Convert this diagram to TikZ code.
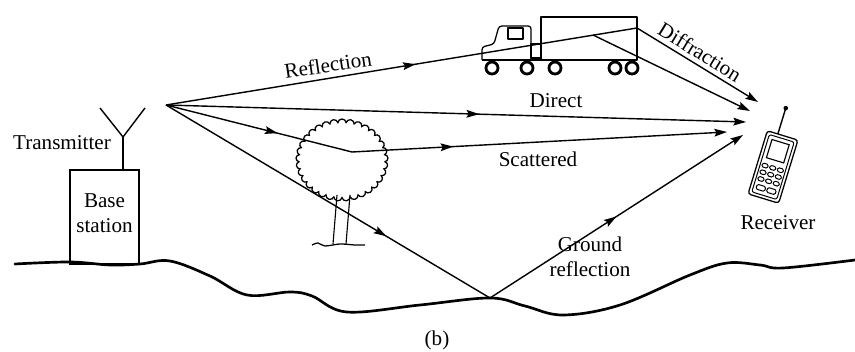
\documentclass[tikz,border=0pt]{standalone}
\usepackage{fontspec}
\setmainfont{Liberation Serif}
\usetikzlibrary{arrows.meta,decorations.markings,shapes.symbols}

\begin{document}
\begin{tikzpicture}[x=0.025cm, y=-0.025cm,
>={Stealth[length=9pt,width=5.5pt,inset=1.5pt]},
lbl/.style = {inner sep=0pt, font=\fontsize{15}{18}\selectfont},
ray/.style = {line width=1pt},
midarrow/.style = {postaction={decorate},
  decoration={markings, mark=at position #1 with {\arrow{>}}}},
truck/.style = {line width=0.9pt, line join=round},
wheel/.style = {line width=2pt, fill=white},
ground/.style = {line width=1.9pt, line cap=round}]
\useasboundingbox (0,0) rectangle (855,352);

% ground
\draw[ground] plot[smooth, tension=0.6] coordinates {(15,264) (70,262) (110,265)
  (140,264) (170,261) (210,276) (247,295) (290,292) (312,296) (347,312)
  (420,305) (490,298) (525,306) (563,315) (620,305) (690,275) (727,263)
  (760,265) (783,268) (855,260)};

% base station and its antenna
\node[draw, line width=0.8pt, minimum width=1.725cm, minimum height=2.35cm,
  inner sep=0pt] (bs) at (104.5,217) {};
\node[lbl, align=center] (bstext) at (104.5,213) {Base\\station};
\coordinate (feed) at (123,137);
\coordinate (armL) at (100,108);
\coordinate (armR) at (145,108);
\draw[line width=1pt] (armL) -- (feed) -- (armR);
\draw[line width=1pt] (feed) -- (feed |- bs.north);
\node[lbl, anchor=base] (tx) at (62,150) {Transmitter};

% tree
\node[cloud, draw, line width=0.9pt, cloud puffs=33, cloud puff arc=165,
  aspect=1.1, minimum width=2.3cm, minimum height=2.05cm,
  inner sep=0pt] (crown) at (342,160) {};
\draw[line width=0.8pt] (337,195) -- (333,244);
\draw[line width=0.8pt] (350,195) -- (346,244);
\draw[line width=0.9pt] plot[smooth] coordinates {(312,245) (318,243) (325,246)
  (340,244) (355,245) (365,245)};

% truck
\draw[truck] (541,17) rectangle (637,60);
\draw[truck, rounded corners=2pt] (482,60) -- (482,47) -- (494,44) -- (499,26)
  -- (531,26) -- (531,60);
\draw[truck] (531,44) rectangle (541,58);
\draw[truck] (508,28) rectangle (523,39);
\draw[truck] (482,60) -- (637,60);
\foreach \wx in {492,527,555,615,632}
  \draw[wheel] (\wx,68) circle [radius=6];

% receiver
\begin{scope}[shift={(773,167)}, rotate=-17]
  \draw[line width=0.9pt, rounded corners=2pt] (-16,-33) rectangle (16,33);
  \draw[line width=0.7pt, rounded corners=1.5pt] (-13,-30) rectangle (13,30);
  \draw[line width=0.8pt] (-9,-26) rectangle (9,-7);
  \foreach \kx in {-8,0,8}
    \foreach \ky in {1,8,15}
      \draw[line width=0.7pt, rounded corners=1pt] (\kx-3,\ky-2) rectangle (\kx+3,\ky+2);
  \foreach \kx in {-5.5,5.5}
    \draw[line width=0.7pt, rounded corners=1pt] (\kx-4.5,21) rectangle (\kx+4.5,26);
  \coordinate (ant) at (-5,-60);
  \draw[line width=1pt] (-5,-33) -- (ant);
  \fill (ant) circle [radius=2.3];
\end{scope}
\node[lbl, anchor=base] (rx) at (778,230) {Receiver};

% propagation paths
\coordinate (src) at (166,105);
\coordinate (bounce) at (593,35);
\coordinate (corner) at (637,28);
\coordinate (scat) at (352,152);
\coordinate (gnd) at (490,298);
\coordinate (rxA) at (758,102);
\coordinate (rxB) at (750,111);
\coordinate (rxC) at (746,122);
\coordinate (rxD) at (727,132);
\coordinate (rxE) at (743,135);

\draw[ray, midarrow=0.53] (src) -- (corner);
\draw[ray, ->] (corner) -- (rxA);
\draw[ray, ->] (bounce) -- (rxB);
\draw[ray, midarrow=0.54, ->] (src) -- (rxC);
\draw[ray, midarrow=0.6] (src) -- (scat);
\draw[ray, midarrow=0.27, ->] (scat) -- (rxD);
\draw[ray, midarrow=0.68] (src) -- (gnd);
\draw[ray, midarrow=0.5, ->] (gnd) -- (rxE);

% path labels
\node[lbl, rotate=8.5] (lrefl) at (328,65) {Reflection};
\node[lbl, rotate=-31.5] (ldiff) at (700,52) {Diffraction};
\node[lbl, anchor=base] (ldir) at (556,108) {Direct};
\node[lbl, anchor=base] (lscat) at (538,167) {Scattered};
\node[lbl, anchor=base, align=center] (lgnd) at (590,277) {Ground\\reflection};
\node[lbl, anchor=base] (cap) at (437,346) {(b)};

\end{tikzpicture}
\end{document}
